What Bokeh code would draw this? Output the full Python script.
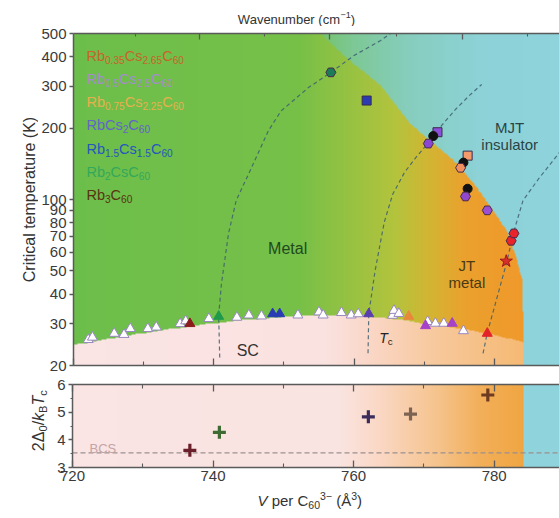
import math
import re
import numpy as np
from bokeh.plotting import figure
from bokeh.models import Range1d, FixedTicker, PrintfTickFormatter, LinearAxis, Label
from bokeh.layouts import column, row
from bokeh.embed import file_html
from bokeh.resources import INLINE

FONT = "Liberation Sans"

# ------------------------------------------------------------------ data
V_RANGE = (720.0, 789.3)
T_RANGE = (20.0, 500.0)
R_RANGE = (3.0, 6.0)

x_major = [720, 740, 760, 780]
x_minor = [730, 750, 770]
t_ticks = [20, 30, 40, 50, 60, 70, 80, 90, 100, 200, 300, 400, 500]
r_major = [3, 4, 5, 6]
r_minor = [3.5, 4.5, 5.5]
wn_major_V = [738.0, 756.5, 775.5]
wn_minor_V = [728.8, 747.3, 766.0, 784.8]

legend_labels = ["Rb_{0.35}Cs_{2.65}C_{60}", "Rb_{0.5}Cs_{2.5}C_{60}", "Rb_{0.75}Cs_{2.25}C_{60}",
                 "RbCs_{2}C_{60}", "Rb_{1.5}Cs_{1.5}C_{60}", "Rb_{2}CsC_{60}", "Rb_{3}C_{60}"]
legend_colors = ["#c8642c", "#a58cc8", "#e6b04e", "#6264c8", "#2456c0", "#34a85a", "#573410"]

# superconducting Tc, open triangles
tc_open_V = [722.1, 722.7, 725.8, 727.2, 728.1, 730.6, 731.8, 735.2, 736.0, 739.3, 743.3, 745.0,
             746.8, 752.0, 755.0, 755.6, 758.2, 759.6, 760.6, 765.5, 765.7, 766.4, 770.5, 771.6,
             772.8, 775.6]
tc_open_T = [25.7, 26.3, 27.3, 27.0, 28.6, 28.6, 29.0, 30.0, 30.8, 31.5, 31.9, 32.6,
             32.3, 32.6, 33.6, 32.6, 33.4, 32.6, 33.0, 32.5, 34.1, 33.1, 30.6, 30.1,
             30.1, 28.0]
# superconducting Tc, filled triangles
tc_col_V = [736.6, 740.7, 748.4, 749.4, 762.1, 767.8, 770.2, 774.0, 779.0]
tc_col_T = [30.0, 32.2, 33.0, 33.0, 33.0, 32.2, 29.4, 30.1, 27.3]
tc_col_color = ["#8b1c1c", "#1f9a4a", "#2a3cb4", "#2a3cb4", "#5b3fae", "#e8883a", "#a542c8",
                "#a542c8", "#e3222a"]

# high-temperature transitions
hex_V = [756.7, 770.6, 775.2, 775.9, 779.0, 782.4, 782.8]
hex_T = [343, 172, 136, 103, 90, 67, 72]
hex_color = ["#1b7d57", "#8a48d2", "#f0905e", "#9048cc", "#9a50d0", "#e8232b", "#e8232b"]
sq_V = [761.8, 771.9, 776.2]
sq_T = [261, 192, 153]
sq_color = ["#2b3cb2", "#8a50d8", "#f59a6a"]
dot_V = [771.3, 775.6, 776.2]
dot_T = [185, 143, 111]
star_V = [781.7]
star_T = [55]

# gap ratio (lower panel)
gap_V = [736.7, 740.9, 762.1, 768.1, 779.1]
gap_R = [3.62, 4.27, 4.83, 4.93, 5.62]
gap_color = ["#6b1f2a", "#3d6b32", "#3b2c5c", "#7d6452", "#6e3a22"]
bcs_ratio = 3.53

# phase boundaries
dome_T = [20, 30, 45.7, 55.5, 74, 89.5, 112, 147, 177, 208, 303, 404, 500]
dome_V = [784.2, 784.2, 784.0, 783.3, 781.8, 779.9, 777.6, 774.2, 770.9, 768.1, 763.8, 758.6, 755.3]
sc_V = [720, 725, 730, 735, 740, 745, 750, 755, 760, 765, 770, 775, 780, 784.2]
sc_T = [24.3, 25.8, 27.3, 28.7, 30.0, 31.2, 32.0, 32.4, 32.3, 31.6, 30.0, 28.6, 26.8, 25.0]

# dashed guide curves
c1_V = [740.85, 740.7, 741.1, 742.1, 743.2, 745.0, 747.8, 749.6, 753.5, 756.7, 760.0, 763.8, 765.2]
c1_T = [21.6, 32.5, 44.3, 71.8, 99.1, 128.7, 195, 236, 296, 343, 404, 467, 500]
c2_V = [762.0, 762.1, 763.0, 764.3, 765.5, 767.2, 768.8, 770.5, 772.5, 774.5, 776.5, 778.2]
c2_T = [22.5, 33.0, 50, 80, 105, 130, 150, 172, 205, 240, 275, 305]
c3_V = [778.4, 779.0, 780.4, 781.8, 782.7, 784.1, 786.3, 788.4, 789.3]
c3_T = [22.5, 27.4, 38.7, 54.8, 71.8, 99.1, 122, 146, 158]

# background colour ramps (horizontal)
met_stops_V = [720, 752, 766, 771, 776, 790]
met_stops_rgb = [(108, 190, 75), (118, 192, 72), (180, 195, 60), (212, 180, 50), (235, 160, 45), (242, 148, 42)]
ins_stops_V = [720, 752, 760, 768, 778, 790]
ins_stops_rgb = [(108, 190, 75), (112, 191, 82), (125, 200, 150), (135, 205, 190), (140, 210, 215), (143, 211, 220)]
sc_stops_V = [720, 756, 762, 772, 784.2, 790]
sc_stops_rgb = [(250, 228, 228), (250, 226, 224), (250, 215, 200), (247, 200, 155), (245, 185, 115), (245, 185, 115)]
gapbg_stops_V = [720, 758, 764, 772, 778, 784.2, 790]
gapbg_stops_rgb = [(250, 228, 228), (250, 228, 225), (250, 215, 195), (245, 195, 140), (242, 175, 90), (240, 165, 65), (240, 165, 65)]
ins_right_rgb = (143, 211, 220)

# ------------------------------------------------------------------ layout (canvas pixels)
W = 559
FR_L, FR_R = 71, 559
FR_T, FR_B = 33, 365
B_T, B_B = 384, 467
WN_H = 26           # strip holding the wavenumber title
TOP_END = 372       # end of the top panel figure
BOT_END = 487       # end of the bottom panel figure
H = 518
YL_TOP_W = 38
YL_BOT_W = 54


def vx(px):
    return V_RANGE[0] + (px - FR_L) * (V_RANGE[1] - V_RANGE[0]) / (FR_R - FR_L)


def ty(py):
    return T_RANGE[0] * (T_RANGE[1] / T_RANGE[0]) ** ((FR_B - py) / (FR_B - FR_T))


def ry(py):
    return R_RANGE[0] + (B_B - py) * (R_RANGE[1] - R_RANGE[0]) / (B_B - B_T)


CW = {'R': .722, 'b': .556, 'C': .722, 's': .5, '.': .278, ' ': .278, 'V': .667, 'p': .556,
      'e': .556, 'r': .333, '(': .333, ')': .333, 'Å': .667, '-': .333, '−': .584, 'Δ': .668,
      '/': .278, 'k': .5, 'B': .667, 'T': .611, 'c': .5, 'W': .944, 'a': .556, 'v': .5,
      'n': .556, 'u': .556, 'm': .833, 'i': .222, 't': .278, 'l': .222, 'K': .667, 'M': .833,
      'J': .5, 'S': .667, 'o': .556}


def tw(s, size):
    return sum(CW.get(ch, 0.556) for ch in s) * size


TOKEN = re.compile(r'_\{([^}]*)\}|\^\{([^}]*)\}|\*([^*]*)\*|([^_^*]+)')


def rich(p, x, y, markup, size, color, angle=0.0, align="left"):
    pieces = []
    for m in TOKEN.finditer(markup):
        sub, sup, it, norm = m.groups()
        if sub is not None:
            pieces.append((sub, 0.7 * size, 0.28 * size, "normal"))
        elif sup is not None:
            pieces.append((sup, 0.7 * size, -0.33 * size, "normal"))
        elif it is not None:
            pieces.append((it, size, 0.0, "italic"))
        else:
            pieces.append((norm, size, 0.0, "normal"))
    total = sum(tw(t, s) for t, s, _, _ in pieces)
    adv = {"left": 0.0, "center": -total / 2, "right": -total}[align]
    ca, sa = math.cos(angle), math.sin(angle)
    for t, s, down, st in pieces:
        stripped = t.lstrip(" ")
        adv += tw(t[:len(t) - len(stripped)], s)
        t = stripped.rstrip(" ")
        if t:
            xo = adv * ca + down * sa
            yo = adv * sa - down * ca
            p.add_layout(Label(x=x, y=y, text=t, x_offset=xo, y_offset=yo, angle=angle,
                               text_font=FONT, text_font_size=f"{s:.1f}px", text_font_style=st,
                               text_color=color, text_align="left", text_baseline="alphabetic"))
        adv += tw(stripped, s)


def ramp(stopsV, stopsRGB, V):
    arr = np.array(stopsRGB, dtype=float)
    return np.stack([np.interp(V, stopsV, arr[:, k]) for k in range(3)], axis=-1)


def to_rgba(rgb):
    ny, nx, _ = rgb.shape
    img = np.zeros((ny, nx), dtype=np.uint32)
    view = img.view(dtype=np.uint8).reshape((ny, nx, 4))
    view[..., :3] = np.clip(np.round(rgb), 0, 255).astype(np.uint8)
    view[..., 3] = 255
    return img


def style_axis(ax, size="15px"):
    ax.axis_line_color = "#5a5a5a"
    ax.axis_line_width = 1.5
    ax.major_tick_line_color = "#5a5a5a"
    ax.minor_tick_line_color = "#5a5a5a"
    ax.major_tick_line_width = 1.3
    ax.minor_tick_line_width = 1.1
    ax.major_label_text_font = FONT
    ax.major_label_text_font_size = size
    ax.major_label_text_color = "#3a3a3a"


def ticks_only(ax):
    ax.major_label_text_font_size = "1px"
    ax.major_label_text_color = None
    ax.major_label_standoff = 0
    ax.major_tick_in = 7
    ax.major_tick_out = 0
    ax.minor_tick_in = 4
    ax.minor_tick_out = 0


def strip(w, h):
    s = figure(width=w, height=h, x_range=Range1d(0, w), y_range=Range1d(0, h),
               output_backend="svg", toolbar_location=None, min_border=0,
               min_border_left=0, min_border_right=0, min_border_top=0, min_border_bottom=0,
               x_axis_location=None, y_axis_location=None, outline_line_color=None,
               background_fill_color="white", border_fill_color="white")
    s.grid.visible = False
    return s


# ------------------------------------------------------------------ top panel
top = figure(width=W - YL_TOP_W, height=TOP_END - WN_H, x_range=Range1d(*V_RANGE),
             y_range=Range1d(*T_RANGE), y_axis_type="log", output_backend="svg",
             toolbar_location=None, min_border_left=FR_L - YL_TOP_W, min_border_right=0,
             min_border_top=FR_T - WN_H, min_border_bottom=TOP_END - FR_B,
             outline_line_color=None, border_fill_color="white")
top.grid.visible = False

nx, ny = 700, 400
Vs = np.linspace(V_RANGE[0], V_RANGE[1], nx)
logT = np.linspace(math.log10(T_RANGE[0]), math.log10(T_RANGE[1]), ny)
vdome = np.interp(logT, np.log10(dome_T), dome_V)[:, None]
tsc = np.interp(Vs, sc_V, sc_T)[None, :]
VV = np.broadcast_to(Vs[None, :], (ny, nx))
TT = np.broadcast_to((10 ** logT)[:, None], (ny, nx))
ins = ramp(ins_stops_V, ins_stops_rgb, Vs)[None, :, :]
met = ramp(met_stops_V, met_stops_rgb, Vs)[None, :, :]
scc = ramp(sc_stops_V, sc_stops_rgb, Vs)[None, :, :]
is_ins = (VV > vdome)[..., None]
is_sc = (TT < tsc)[..., None]
rgb = np.where(is_ins, ins, np.where(is_sc, scc, met))
top.image_rgba(image=[to_rgba(rgb)], x=V_RANGE[0], y=T_RANGE[0],
               dw=V_RANGE[1] - V_RANGE[0], dh=T_RANGE[1] - T_RANGE[0])

for cv, ct in ((c1_V, c1_T), (c2_V, c2_T), (c3_V, c3_T)):
    top.line(cv, ct, line_dash="4 3", line_color="#3e5f6e", line_width=1.2, line_alpha=0.85)

top.scatter(tc_open_V, tc_open_T, marker="triangle", size=10, fill_color="white",
            line_color="#9a88c0", line_width=1)
top.scatter(tc_col_V, tc_col_T, marker="triangle", size=10, fill_color=tc_col_color,
            line_color=tc_col_color, line_width=1)
top.scatter(sq_V, sq_T, marker="square", size=9, fill_color=sq_color, line_color="#3a2a50",
            line_width=1)
top.scatter(dot_V, dot_T, marker="circle", size=9, fill_color="#111111", line_color="#111111")
top.scatter(hex_V, hex_T, marker="hex", size=10, fill_color=hex_color, line_color="#4a2a4a",
            line_width=1)
top.scatter(star_V, star_T, marker="star", size=13, fill_color="#d8302a", line_color="#a01818",
            line_width=1)

style_axis(top.xaxis[0])
top.xaxis.ticker = FixedTicker(ticks=x_major, minor_ticks=x_minor)
ticks_only(top.xaxis[0])
style_axis(top.yaxis[0])
top.yaxis.ticker = FixedTicker(ticks=t_ticks, minor_ticks=[])
top.yaxis.formatter = PrintfTickFormatter(format="%d")
top.yaxis.major_tick_in = 0
top.yaxis.major_tick_out = 4
top.yaxis.major_label_standoff = 3
wn_axis = LinearAxis(ticker=FixedTicker(ticks=wn_major_V, minor_ticks=wn_minor_V))
style_axis(wn_axis)
ticks_only(wn_axis)
wn_axis.major_tick_in = 6
wn_axis.minor_tick_in = 3
top.add_layout(wn_axis, "above")

for i, (lab, col) in enumerate(zip(legend_labels, legend_colors)):
    rich(top, vx(84), ty(55 + 23.3 * i), lab, 14.5, col)
rich(top, vx(286), ty(248), "Metal", 16, "#1f4a1f", align="center")
rich(top, vx(246), ty(350), "SC", 16, "#333333", align="center")
rich(top, vx(378), ty(337), "*T*_{c}", 14, "#222222")
rich(top, vx(466), ty(265), "JT", 15, "#4a3a14", align="center")
rich(top, vx(466), ty(282), "metal", 15, "#4a3a14", align="center")
rich(top, vx(509), ty(127), "MJT", 15, "#2a4444", align="center")
rich(top, vx(509), ty(144), "insulator", 15, "#2a4444", align="center")

# ------------------------------------------------------------------ bottom panel
bot = figure(width=W - YL_BOT_W, height=BOT_END - TOP_END, x_range=top.x_range,
             y_range=Range1d(*R_RANGE), output_backend="svg", toolbar_location=None,
             min_border_left=FR_L - YL_BOT_W, min_border_right=0,
             min_border_top=B_T - TOP_END, min_border_bottom=BOT_END - B_B,
             outline_line_color=None, border_fill_color="white")
bot.grid.visible = False

bg = ramp(gapbg_stops_V, gapbg_stops_rgb, Vs)
bg = np.where((Vs > dome_V[0])[:, None], np.array(ins_right_rgb, dtype=float)[None, :], bg)
bg_img = np.broadcast_to(bg[None, :, :], (2, nx, 3))
bot.image_rgba(image=[to_rgba(bg_img)], x=V_RANGE[0], y=R_RANGE[0],
               dw=V_RANGE[1] - V_RANGE[0], dh=R_RANGE[1] - R_RANGE[0])
bot.line([V_RANGE[0], V_RANGE[1]], [bcs_ratio, bcs_ratio], line_dash="5 3",
         line_color="#9a9090", line_width=1.2)
bot.scatter(gap_V, gap_R, marker="cross", size=13, line_color=gap_color, line_width=3.2)

style_axis(bot.xaxis[0])
bot.xaxis.ticker = FixedTicker(ticks=x_major, minor_ticks=x_minor)
bot.xaxis.major_tick_in = 7
bot.xaxis.major_tick_out = 0
bot.xaxis.minor_tick_in = 4
bot.xaxis.minor_tick_out = 0
bot.xaxis.major_label_standoff = 3
bot_top_axis = LinearAxis(ticker=FixedTicker(ticks=x_major, minor_ticks=x_minor))
style_axis(bot_top_axis)
ticks_only(bot_top_axis)
bot.add_layout(bot_top_axis, "above")
style_axis(bot.yaxis[0])
bot.yaxis.ticker = FixedTicker(ticks=r_major, minor_ticks=r_minor)
bot.yaxis.formatter = PrintfTickFormatter(format="%d")
bot.yaxis.major_tick_in = 0
bot.yaxis.major_tick_out = 4
bot.yaxis.minor_tick_in = 0
bot.yaxis.minor_tick_out = 2
bot.yaxis.major_label_standoff = 3

rich(bot, vx(88), ry(448), "BCS", 13, "#c4a4a4")

# ------------------------------------------------------------------ title strips
wn_strip = strip(W, WN_H)
rich(wn_strip, 296, WN_H - 19, "Wavenumber (cm^{−1})", 13, "#333333", align="center")

ylab_top = strip(YL_TOP_W, TOP_END - WN_H)
rich(ylab_top, 29, TOP_END - 199, "Critical temperature (K)", 16, "#333333",
     angle=math.pi / 2, align="center")

ylab_bot = strip(YL_BOT_W, BOT_END - TOP_END)
rich(ylab_bot, 38, BOT_END - 422, "2Δ_{0}/*k*_{B}*T*_{c}", 16, "#333333",
     angle=math.pi / 2, align="center")

xlab = strip(W, H - BOT_END)
rich(xlab, 257, H - 500, "*V* per C_{60}^{3−} (Å^{3})", 15, "#333333")

layout = column(wn_strip, row(ylab_top, top, spacing=0), row(ylab_bot, bot, spacing=0),
                xlab, spacing=0)
open("out.html", "w").write(file_html(layout, INLINE))
